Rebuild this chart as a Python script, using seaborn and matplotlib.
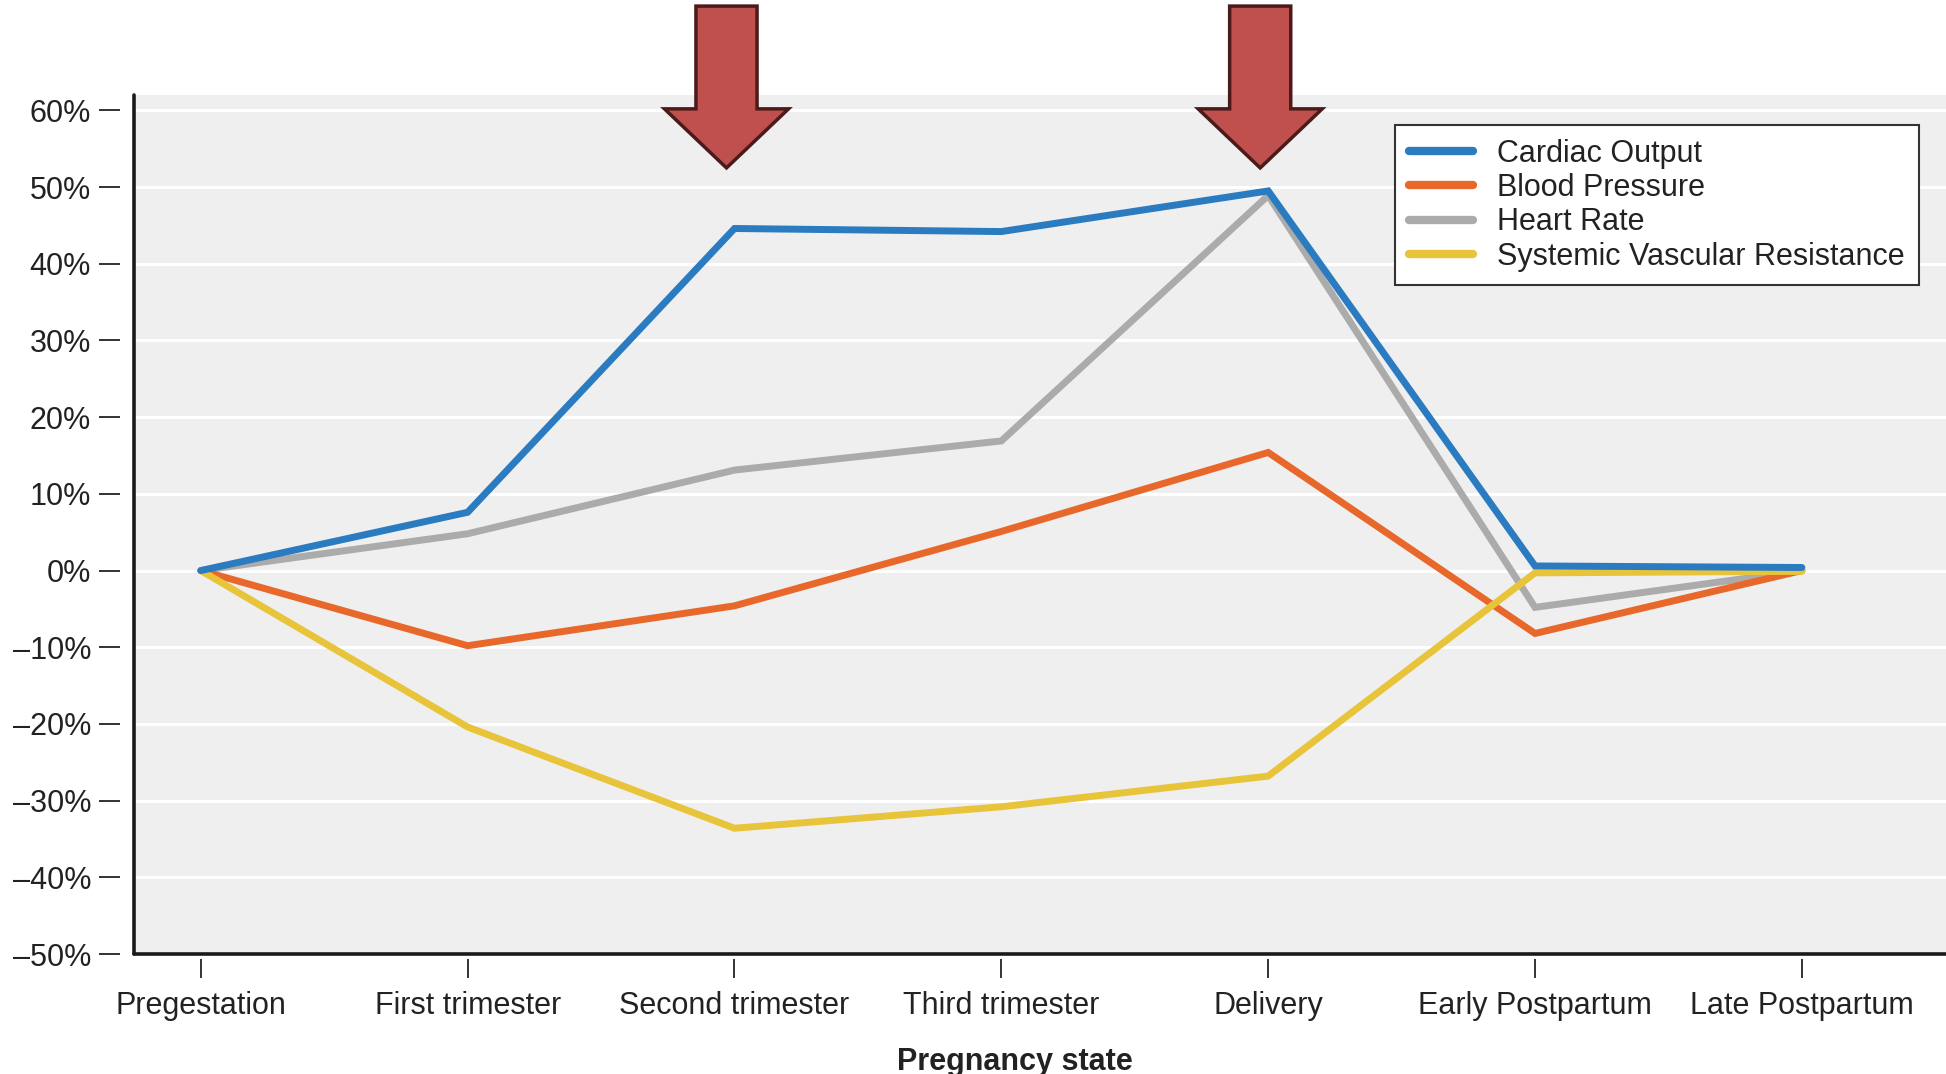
import pandas as pd
import seaborn as sns
import matplotlib.pyplot as plt
from matplotlib.patches import FancyArrow

# values (% change from pregestation)
stages = ["Pregestation", "First trimester", "Second trimester", "Third trimester",
          "Delivery", "Early Postpartum", "Late Postpartum"]
cardiac_output = [0.0, 7.6, 44.6, 44.2, 49.5, 0.6, 0.4]
blood_pressure = [0.0, -9.8, -4.6, 5.1, 15.4, -8.2, 0.0]
heart_rate = [0.0, 4.8, 13.1, 16.9, 48.9, -4.8, 0.0]
vascular_resistance = [0.0, -20.4, -33.6, -30.8, -26.8, -0.3, -0.1]

series_names = ["Cardiac Output", "Blood Pressure", "Heart Rate", "Systemic Vascular Resistance"]
series_colors = ["#2B7BC0", "#E8672A", "#ABABAB", "#E8C43B"]
ytick_values = [60, 50, 40, 30, 20, 10, 0, -10, -20, -30, -40, -50]
ytick_labels = [f"{v}%".replace("-", "\u2013") for v in ytick_values]
arrow_stages = ["Second trimester", "Delivery"]

# long form table for seaborn
rows = []
for name, vals in zip(series_names, [cardiac_output, blood_pressure, heart_rate, vascular_resistance]):
    for stage, v in zip(stages, vals):
        rows.append({"stage": stage, "change": v, "measure": name})
df = pd.DataFrame(rows)

sns.set_theme(style="darkgrid", rc={"axes.facecolor": "#EFEFEF", "grid.color": "white",
                                     "grid.linewidth": 2.2})
plt.rcParams["font.family"] = ["Liberation Sans", "DejaVu Sans"]
fs = 22

fig = plt.figure(figsize=(19.46, 10.74), dpi=100)
fig.subplots_adjust(left=0.0689, right=1.0, bottom=0.1117, top=0.9115)
ax = fig.add_subplot(111)

sns.lineplot(data=df, x="stage", y="change", hue="measure", hue_order=series_names,
             palette=series_colors, sort=False, errorbar=None, linewidth=5, ax=ax)

# blue on top, like the original
for ln, z in zip(ax.lines, [5, 3, 2, 4]):
    ln.set_zorder(z)
    ln.set_solid_joinstyle("miter")

ax.set_xlim(-0.25, 6.54)
ax.set_ylim(-50, 62)
ax.set_yticks(ytick_values)
ax.set_yticklabels(ytick_labels)
ax.set_xticks(range(len(stages)))
ax.set_xticklabels(stages)
ax.xaxis.grid(False)
ax.set_ylabel("")
ax.set_xlabel("Pregnancy state", fontsize=fs, fontweight="bold", labelpad=19, color="#222222")
ax.xaxis.label.set_x(0.486)

# detached ticks, spines drawn by hand
for side in ["top", "right", "left", "bottom"]:
    ax.spines[side].set_visible(False)
ax.spines["left"].set_position(("outward", 10))
ax.spines["bottom"].set_position(("outward", 3.6))
ax.tick_params(axis="y", direction="out", length=15, width=1.4, color="#333333",
               pad=6, labelsize=fs, labelcolor="#222222", left=True)
ax.tick_params(axis="x", direction="out", length=14, width=1.4, color="#333333",
               pad=9, labelsize=fs, labelcolor="#222222", bottom=True)
ax.axvline(-0.25, color="#1A1A1A", lw=2.6, clip_on=False, zorder=6)
ax.axhline(-50, color="#1A1A1A", lw=2.6, clip_on=False, zorder=6)

# red arrows pointing at second trimester and delivery
for stage in arrow_stages:
    xi = stages.index(stage)
    arr = FancyArrow(xi - 0.03, 73.6, 0, -21.1, width=0.229, head_width=0.465,
                     head_length=7.7, length_includes_head=True,
                     facecolor="#C0504D", edgecolor="#4B1A1A", lw=2.5, clip_on=False, zorder=7)
    ax.add_patch(arr)

sns.move_legend(ax, "upper right", bbox_to_anchor=(0.985, 0.965), title=None, frameon=True,
                fontsize=fs, borderaxespad=0, handlelength=2.1, handletextpad=0.8,
                labelspacing=0.14, fancybox=False, framealpha=1, borderpad=0.45)
leg = ax.get_legend()
leg.get_frame().set_edgecolor("#333333")
leg.get_frame().set_linewidth(1.5)
leg.get_frame().set_facecolor("white")
for ln in leg.get_lines():
    ln.set_linewidth(6)
for t in leg.get_texts():
    t.set_color("#222222")

fig.savefig("out.png", dpi=100)
